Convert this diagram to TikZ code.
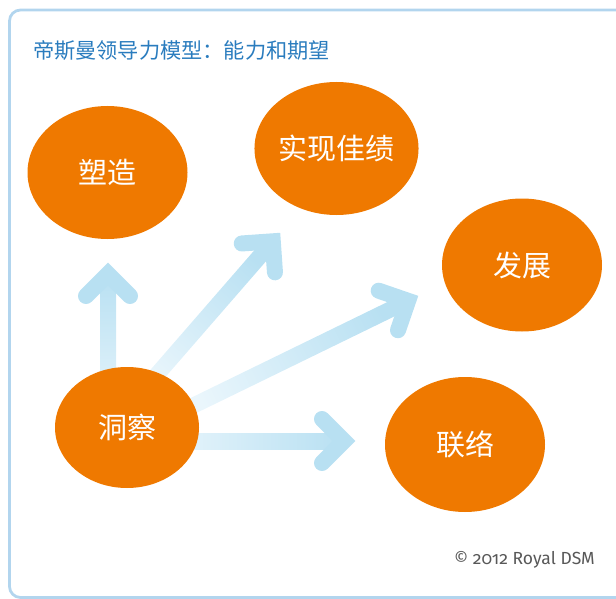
\documentclass[tikz,border=0pt]{standalone}
\usepackage{fontspec}
\newfontfamily\cjk{Noto Sans CJK SC}
\newfontfamily\dsmfont[Numbers=OldStyle]{Fira Sans}
\usepackage{xcolor}
\usetikzlibrary{shapes,calc}

\definecolor{dsmorange}{RGB}{239,121,0}
\definecolor{titleblue}{RGB}{42,124,190}
\definecolor{frameblue}{RGB}{178,213,238}
\definecolor{arrowblue}{RGB}{184,224,242}
\definecolor{arrowpale}{RGB}{234,246,252}
\definecolor{copygray}{RGB}{88,88,88}

\begin{document}
\begin{tikzpicture}[x=1pt, y=-1pt,
		bubble/.style={ellipse, fill=dsmorange, text=white, inner sep=0pt, minimum width=160pt, minimum height=133pt, font=\cjk\fontsize{29}{33}\selectfont}]
	\useasboundingbox (0,0) rectangle (616,599);
	\clip (0,0) rectangle (616,599);
	\draw[line width=2.8pt, draw=frameblue, rounded corners=11pt] (9.5,10) rectangle (650,597.5);
	\node[anchor=west, inner sep=0pt, text=titleblue, font=\cjk\fontsize{21.2}{25}\selectfont] (title) at (33,51) {帝斯曼领导力模型：能力和期望};

	\coordinate (tipA) at (108,263);
	\coordinate (tipB) at (280,233);
	\coordinate (tipC) at (418,296);
	\coordinate (tipD) at (355,441);
	\foreach \t/\a/\l/\s in {tipA/90/160/0, tipB/49/220/-41, tipC/26/270/-64, tipD/0/200/-90}{
		\begin{scope}[shift={(\t)}, rotate=\a]
			\shade[top color=arrowblue, bottom color=arrowpale, shading angle=\s] (-\l,-8) -- (-11,-8) -- (-11,8) -- (-\l,8) -- cycle;
			\draw[arrowblue, line width=16pt, line cap=round] (-33,-22) -- (-11,0) -- (-33,22);
		\end{scope}
	}

	\node[bubble] (shape) at (107.5,172.5) {塑造};
	\node[bubble] (achieve) at (336.5,148.5) {实现佳绩};
	\node[bubble] (develop) at (522,265) {发展};
	\node[bubble, minimum width=144pt, minimum height=121pt] (insight) at (127,427.5) {洞察};
	\node[bubble, minimum height=135pt] (connect) at (465,444.5) {联络};

	\node[anchor=east, inner sep=0pt, text=copygray, font=\dsmfont\fontsize{17.5}{20}\selectfont] (copy) at (595,560) {© 2012 Royal DSM};
\end{tikzpicture}
\end{document}
